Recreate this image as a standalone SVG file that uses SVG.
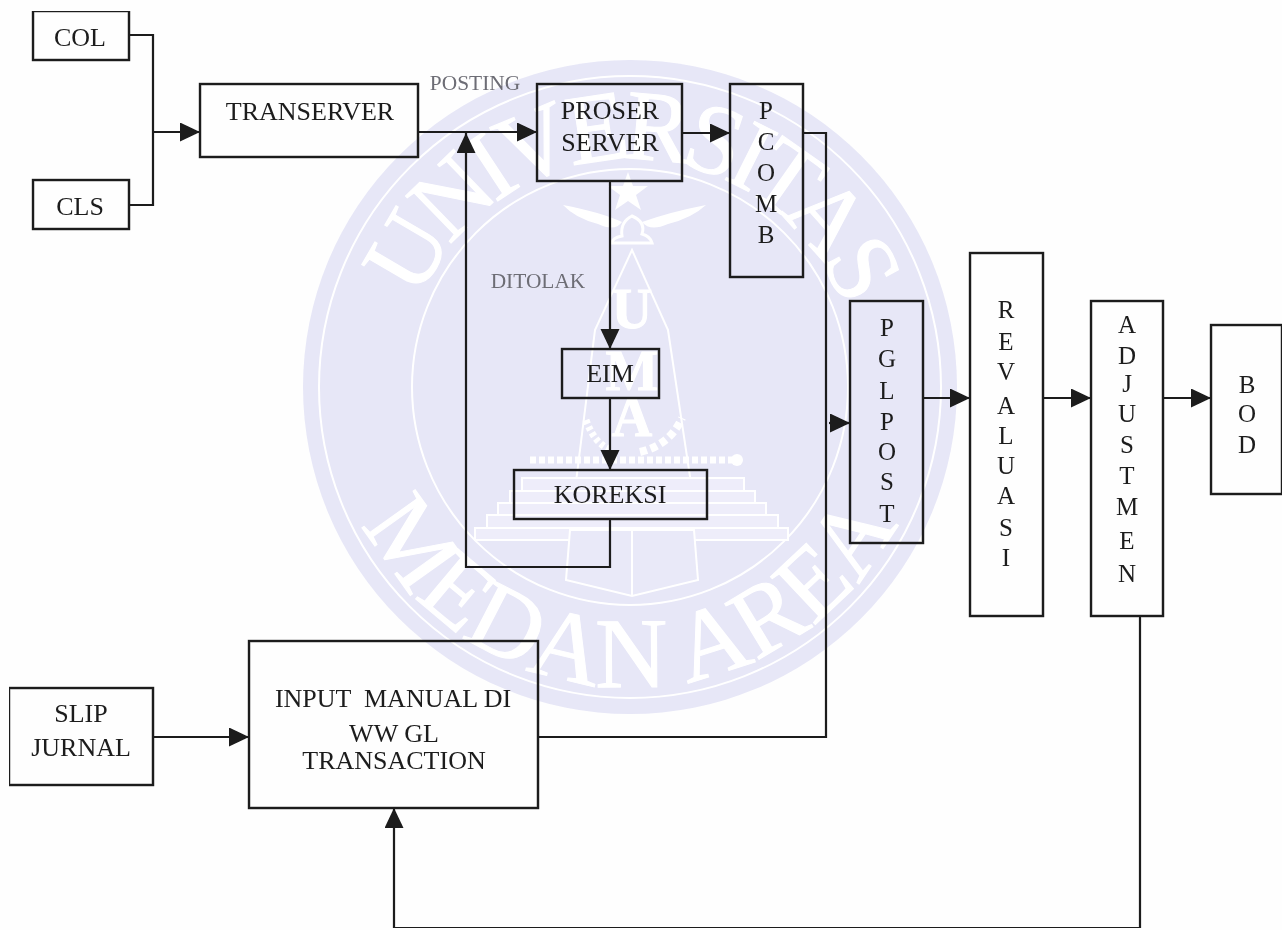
<svg xmlns="http://www.w3.org/2000/svg" width="1282" height="930" viewBox="0 0 1282 930">
<defs>
<style>
.b{fill:none;stroke:#1d1d1d;stroke-width:2.4}
.c{fill:none;stroke:#1d1d1d;stroke-width:2.2}
text{font-family:"Liberation Serif","Times New Roman",serif;fill:#1c1c1c;text-anchor:middle;font-size:26px;white-space:pre}
.v{font-size:25px}
.s{font-size:21.4px;fill:#6d6d75}
.w{font-size:100px;fill:#fff;stroke:#fff;stroke-width:1}
.e{fill:#eeedfa;stroke:#fff;stroke-width:2}
</style>
<marker id="a" markerUnits="userSpaceOnUse" markerWidth="21" markerHeight="20" refX="20" refY="9.5" orient="auto"><path d="M0 0L20 9.5L0 19Z" fill="#1a1a1a"/></marker>
<filter id="soft" x="0" y="0" width="1" height="1"><feGaussianBlur stdDeviation="0.7"/></filter>
<path id="up" d="M402 387A228 228 0 0 1 858 387"/>
<path id="low" d="M330 387A300 300 0 0 0 930 387"/>
</defs>
<rect width="1282" height="930" fill="#fefefe"/>
<g id="watermark" filter="url(#soft)">
<circle cx="630" cy="387" r="327" fill="#e7e7f7"/>
<circle cx="630" cy="387" r="311" fill="none" stroke="#fff" stroke-width="2"/>
<circle cx="630" cy="387" r="218" fill="none" stroke="#fff" stroke-width="2"/>
<text class="w"><textPath href="#up" startOffset="50%" letter-spacing="-10">UNIVERSITAS</textPath></text>
<text class="w"><textPath href="#low" startOffset="50%">MEDAN AREA</textPath></text>
<path d="M628 172l5 14h15l-12 9 5 15-13-9-13 9 5-15-12-9h15z" fill="#fff"/>
<path d="M563 205Q600 212 622 222Q615 232 598 224Q575 218 563 205ZM706 205Q670 212 642 222Q650 232 668 224Q692 218 706 205Z" fill="#fff"/>
<path d="M632 216Q620 222 622 236Q612 238 612 243H652Q650 236 642 234Q646 222 632 216Z" fill="none" stroke="#fff" stroke-width="3"/>
<path d="M632 250L595 330L570 530H698L668 330Z" fill="none" stroke="#fff" stroke-width="2"/>
<rect class="e" x="475" y="528" width="313" height="12"/>
<rect class="e" x="487" y="515" width="291" height="13"/>
<rect class="e" x="498" y="503" width="268" height="12"/>
<rect class="e" x="510" y="491" width="245" height="12"/>
<rect class="e" x="522" y="478" width="222" height="13"/>
<path d="M570 530L566 580L632 596L698 580L694 530Z" fill="#e9e9f8" stroke="#fff" stroke-width="2"/>
<path d="M632 530V596" stroke="#fff" stroke-width="2"/>
<text class="w" x="632" y="328" style="font-size:56px;font-weight:bold">U</text>
<text class="w" x="632" y="390" style="font-size:56px;font-weight:bold">M</text>
<text class="w" x="632" y="436" style="font-size:56px;font-weight:bold">A</text>
<path d="M530 460H735" fill="none" stroke="#fff" stroke-width="7" stroke-dasharray="6 3"/>
<circle cx="737" cy="460" r="6" fill="#fff"/>
<path d="M640 452Q670 445 682 418" fill="none" stroke="#fff" stroke-width="8" stroke-dasharray="7 4"/>
<path d="M586 420Q595 445 612 450" fill="none" stroke="#fff" stroke-width="7" stroke-dasharray="4 3"/>
</g>
<g filter="url(#soft)">
<g id="connectors">
<path class="c" d="M129 35H153V205H129"/>
<path class="c" d="M153 132H200" marker-end="url(#a)"/>
<path class="c" d="M418 132H537" marker-end="url(#a)"/>
<path class="c" d="M682 133H730" marker-end="url(#a)"/>
<path class="c" d="M803 133H826V737H538"/>
<path class="c" d="M829 423H850" marker-end="url(#a)"/>
<path class="c" d="M923 398H970" marker-end="url(#a)"/>
<path class="c" d="M1043 398H1091" marker-end="url(#a)"/>
<path class="c" d="M1163 398H1211" marker-end="url(#a)"/>
<path class="c" d="M610 181V349" marker-end="url(#a)"/>
<path class="c" d="M610 398V470" marker-end="url(#a)"/>
<path class="c" d="M610 519V567H466V133" marker-end="url(#a)"/>
<path class="c" d="M153 737H249" marker-end="url(#a)"/>
<path class="c" d="M1140 616V928H394V808" marker-end="url(#a)"/>
</g>
<g id="col"><rect class="b" x="33" y="11" width="96" height="49"/><text x="80" y="46">COL</text></g>
<g id="cls"><rect class="b" x="33" y="180" width="96" height="49"/><text x="80" y="215">CLS</text></g>
<g id="transerver"><rect class="b" x="200" y="84" width="218" height="73"/><text x="310" y="120">TRANSERVER</text></g>
<g id="proser"><rect class="b" x="537" y="84" width="145" height="97"/><text x="610" y="119">PROSER</text><text x="610" y="151">SERVER</text></g>
<g id="pcomb" class="v"><rect class="b" x="730" y="84" width="73" height="193"/><text class="v" x="766" y="119">P</text><text class="v" x="766" y="150">C</text><text class="v" x="766" y="181">O</text><text class="v" x="766" y="212">M</text><text class="v" x="766" y="243">B</text></g>
<g id="eim"><rect class="b" x="562" y="349" width="97" height="49"/><text x="610" y="382">EIM</text></g>
<g id="koreksi"><rect class="b" x="514" y="470" width="193" height="49"/><text x="610" y="503">KOREKSI</text></g>
<g id="pglpost"><rect class="b" x="850" y="301" width="73" height="242"/><text class="v" x="887" y="336">P</text><text class="v" x="887" y="367">G</text><text class="v" x="887" y="399">L</text><text class="v" x="887" y="430">P</text><text class="v" x="887" y="460">O</text><text class="v" x="887" y="490">S</text><text class="v" x="887" y="522">T</text></g>
<g id="revaluasi"><rect class="b" x="970" y="253" width="73" height="363"/><text class="v" x="1006" y="318">R</text><text class="v" x="1006" y="350">E</text><text class="v" x="1006" y="380">V</text><text class="v" x="1006" y="414">A</text><text class="v" x="1006" y="444">L</text><text class="v" x="1006" y="474">U</text><text class="v" x="1006" y="504">A</text><text class="v" x="1006" y="536">S</text><text class="v" x="1006" y="566">I</text></g>
<g id="adjustmen"><rect class="b" x="1091" y="301" width="72" height="315"/><text class="v" x="1127" y="333">A</text><text class="v" x="1127" y="364">D</text><text class="v" x="1127" y="392">J</text><text class="v" x="1127" y="422">U</text><text class="v" x="1127" y="453">S</text><text class="v" x="1127" y="484">T</text><text class="v" x="1127" y="515">M</text><text class="v" x="1127" y="549">E</text><text class="v" x="1127" y="582">N</text></g>
<g id="bod"><rect class="b" x="1211" y="325" width="71" height="169"/><text class="v" x="1247" y="393">B</text><text class="v" x="1247" y="422">O</text><text class="v" x="1247" y="453">D</text></g>
<g id="slip"><rect class="b" x="9" y="688" width="144" height="97"/><text x="81" y="722">SLIP</text><text x="81" y="756">JURNAL</text></g>
<g id="input"><rect class="b" x="249" y="641" width="289" height="167"/><text x="393" y="707">INPUT  MANUAL DI</text><text x="394" y="742">WW GL</text><text x="394" y="769">TRANSACTION</text></g>
<text class="s" x="475" y="90">POSTING</text>
<text class="s" x="538" y="288">DITOLAK</text>
</g>
</svg>
